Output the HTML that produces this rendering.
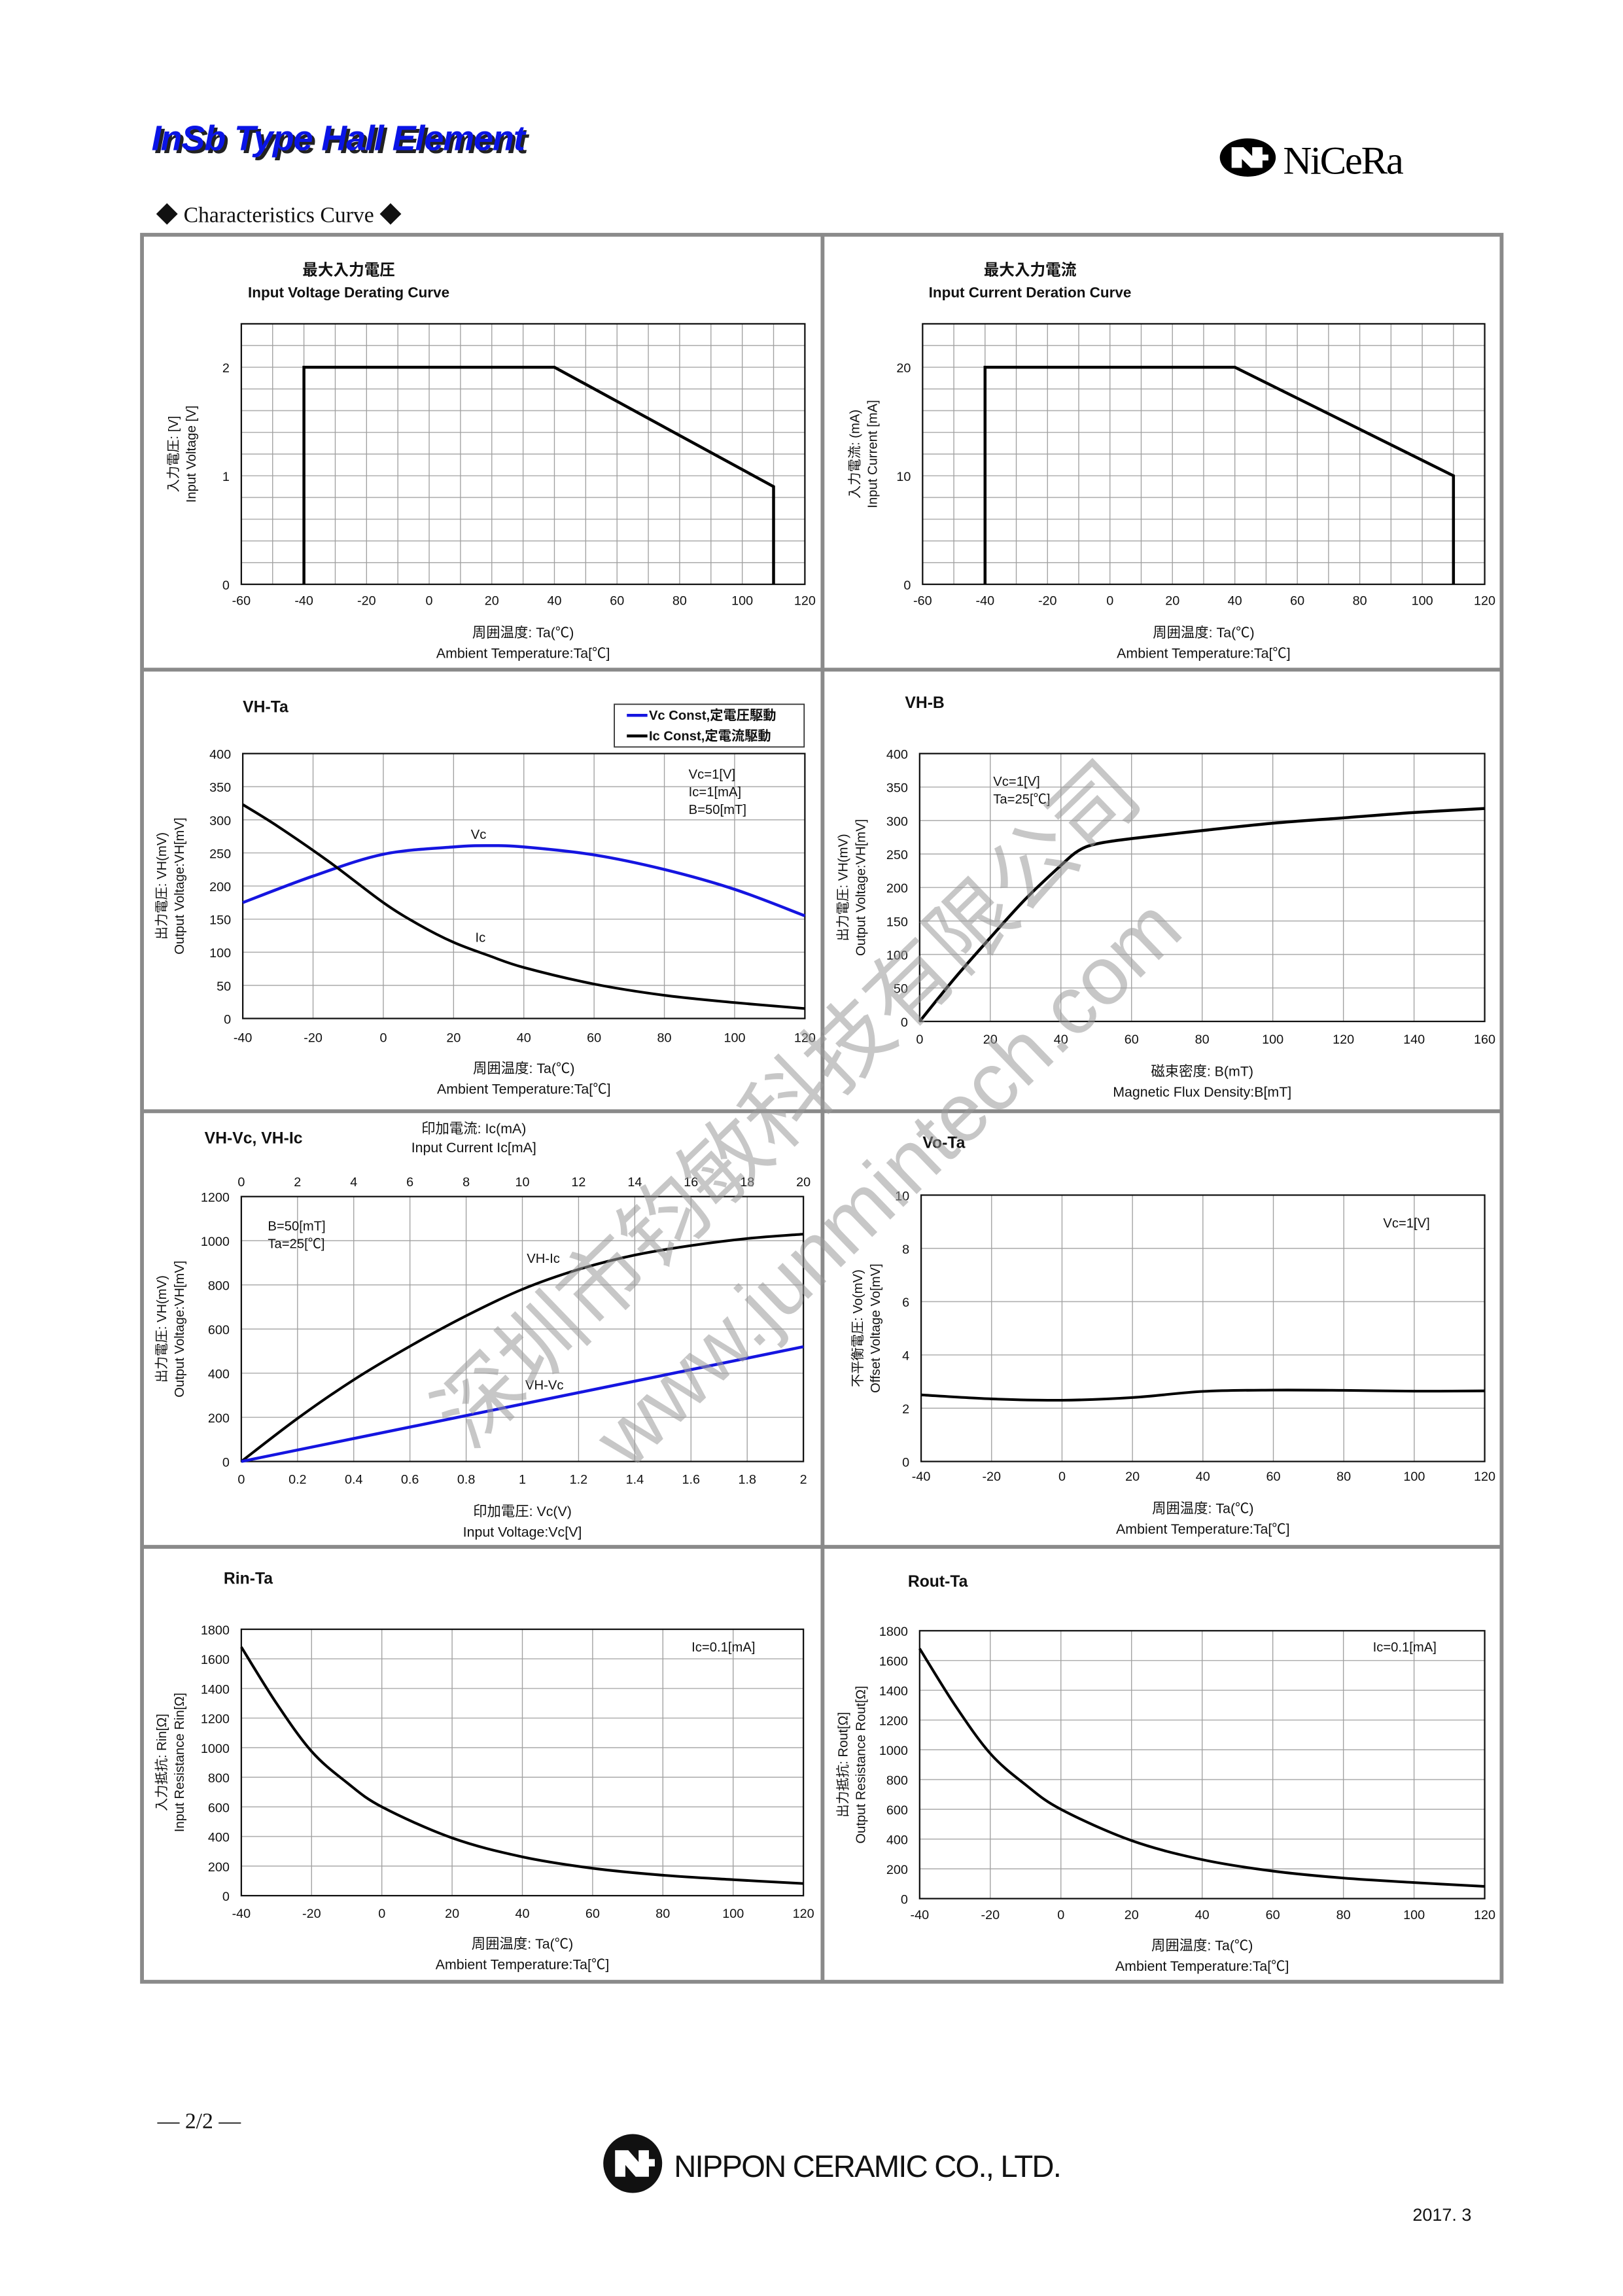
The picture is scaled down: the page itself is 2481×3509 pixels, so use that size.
<!DOCTYPE html>
<html><head><meta charset="utf-8">
<style>
html,body{margin:0;padding:0;background:#fff;}
svg{display:block;}
text{font-family:"Liberation Sans","Noto Sans CJK JP",sans-serif;fill:#111;}
</style></head>
<body>
<svg id="s" xmlns="http://www.w3.org/2000/svg" width="2481" height="3509" viewBox="0 0 1103 1560">
<rect x="0" y="0" width="1103" height="1560" fill="#fff"/>
<text x="105" y="104" font-size="24" font-weight="bold" font-style="italic" style="fill:#222" letter-spacing="-0.5">InSb  Type Hall Element</text>
<text x="103" y="102" font-size="24" font-weight="bold" font-style="italic" style="fill:#0a14e6" letter-spacing="-0.5">InSb  Type Hall Element</text>
<ellipse cx="848" cy="107" rx="19" ry="13" fill="#000"/>
<path d="M837 100 h8 l6 6 v-6 h7 v5 h4 v4 h-4 v5 h-8 l-6 -6 v6 h-7 z" fill="#fff"/>
<text x="872" y="118" font-size="27" font-family="Liberation Serif" style="fill:#000;font-family:'Liberation Serif',serif" letter-spacing="-1">NiCeRa</text>
<text x="106" y="151" font-size="15" style="font-family:'Liberation Serif','Noto Serif CJK SC',serif">◆  Characteristics Curve  ◆</text>
<g fill="none" stroke="#8a8a8a" stroke-width="2.6">
<rect x="96.5" y="159.5" width="924" height="1187"/>
<line x1="559" y1="159" x2="559" y2="1347"/>
<line x1="96" y1="455" x2="1021" y2="455"/>
<line x1="96" y1="755" x2="1021" y2="755"/>
<line x1="96" y1="1051" x2="1021" y2="1051"/>
</g>
<g id="charts"></g>
<g opacity="0.55" style="pointer-events:none">
<text x="535" y="770" font-size="58" text-anchor="middle" transform="rotate(-44 535 750)" style="fill:#9a9a9a;font-family:'Noto Sans CJK SC',sans-serif">深圳市钧敏科技有限公司</text>
<text x="605" y="822" font-size="56" text-anchor="middle" transform="rotate(-44 605 805)" style="fill:#9a9a9a">www.junmintech.com</text>
</g>
<text x="107" y="1446" font-size="15" style="font-family:'Liberation Serif',serif">—  2/2  —</text>
<circle cx="430" cy="1470" r="20" fill="#111"/>
<path d="M418 1461 h9 l7 8 v-8 h7 v6 h4 v5 h-4 v7 h-9 l-7 -8 v8 h-7 z" fill="#fff"/>
<text x="458" y="1479" font-size="21" letter-spacing="-0.8" style="fill:#111" font-family="Liberation Sans Narrow">NIPPON CERAMIC CO., LTD.</text>
<text x="960" y="1509" font-size="12">2017. 3</text>
</svg>
<script>
var NS="http://www.w3.org/2000/svg",G=document.getElementById("charts");
function el(t,a,txt,p){var e=document.createElementNS(NS,t);for(var k in a)e.setAttribute(k,a[k]);if(txt!==undefined)e.textContent=txt;(p||G).appendChild(e);return e;}
function tx(x,y,s,size,anchor,extra){var a={x:x,y:y,"font-size":size||9,"text-anchor":anchor||"start"};if(extra)for(var k in extra)a[k]=extra[k];return el("text",a,s);}
function cr(pts){var d="M"+pts[0][0].toFixed(2)+" "+pts[0][1].toFixed(2);for(var i=0;i<pts.length-1;i++){var p0=pts[i-1]||pts[i],p1=pts[i],p2=pts[i+1],p3=pts[i+2]||p2;var c1=[p1[0]+(p2[0]-p0[0])/6,p1[1]+(p2[1]-p0[1])/6],c2=[p2[0]-(p3[0]-p1[0])/6,p2[1]-(p3[1]-p1[1])/6];d+=" C"+c1[0].toFixed(2)+" "+c1[1].toFixed(2)+" "+c2[0].toFixed(2)+" "+c2[1].toFixed(2)+" "+p2[0].toFixed(2)+" "+p2[1].toFixed(2);}return d;}
function chart(c){
 var X=function(v){return c.x0+(v-c.xmin)/(c.xmax-c.xmin)*(c.x1-c.x0);},Y=function(v){return c.y1-(v-c.ymin)/(c.ymax-c.ymin)*(c.y1-c.y0);};
 var v,i;
 for(v=c.ymin+c.ygrid;v<c.ymax-1e-9;v+=c.ygrid){el("line",{x1:c.x0,x2:c.x1,y1:Y(v),y2:Y(v),stroke:"#b0b0b0","stroke-width":0.7});}
 for(v=c.xmin+c.xgrid;v<c.xmax-1e-9;v+=c.xgrid){el("line",{y1:c.y0,y2:c.y1,x1:X(v),x2:X(v),stroke:"#a0a0a0","stroke-width":0.6});}
 el("rect",{x:c.x0,y:c.y0,width:c.x1-c.x0,height:c.y1-c.y0,fill:"none",stroke:"#111","stroke-width":1});
 for(i=0;i<c.xt.length;i++){tx(X(c.xt[i]),c.xty,c.xtl?c.xtl[i]:String(c.xt[i]),8.8,"middle");}
 for(i=0;i<c.yt.length;i++){tx(c.x0-8,Y(c.yt[i])+3.5,String(c.yt[i]),8.8,"end");}
 c.series.forEach(function(s){var pts=s.p.map(function(q){return[X(q[0]),Y(q[1])];});
  el("path",{d:s.lin?("M"+pts.map(function(q){return q[0]+" "+q[1];}).join(" L")):cr(pts),fill:"none",stroke:s.col||"#000","stroke-width":s.w||1.8,"stroke-linejoin":"miter"});});
 var my=(c.y0+c.y1)/2;
 tx(c.ylx,my,c.yl1,9,"middle",{transform:"rotate(-90 "+c.ylx+" "+my+")"});
 tx(c.ylx+12,my,c.yl2,9,"middle",{transform:"rotate(-90 "+(c.ylx+12)+" "+my+")"});
 var mx=(c.x0+c.x1)/2;
 tx(mx,c.xly,c.xl1,9.5,"middle");tx(mx,c.xly+14,c.xl2,9.5,"middle");
}
var T=[-40,-20,0,20,40,60,80,100,120],T6=[-60,-40,-20,0,20,40,60,80,100,120];
var A1="周囲温度: Ta(℃)",A2="Ambient Temperature:Ta[℃]";
chart({x0:164,x1:547,y0:220,y1:397,xmin:-60,xmax:120,ymin:0,ymax:2.4,xgrid:10,ygrid:0.2,xt:T6,xty:411,yt:[0,1,2],series:[{p:[[-40,0],[-40,2],[40,2],[110,0.9],[110,0]],lin:1,w:2}],ylx:121,yl1:"入力電圧: [V]",yl2:"Input Voltage [V]",xly:433,xl1:A1,xl2:A2});
tx(237,187,"最大入力電圧",10.5,"middle",{"font-weight":"bold"});tx(237,202,"Input Voltage Derating Curve",10,"middle",{"font-weight":"bold"});
chart({x0:627,x1:1009,y0:220,y1:397,xmin:-60,xmax:120,ymin:0,ymax:24,xgrid:10,ygrid:2,xt:T6,xty:411,yt:[0,10,20],series:[{p:[[-40,0],[-40,20],[40,20],[110,10],[110,0]],lin:1,w:2}],ylx:584,yl1:"入力電流: (mA)",yl2:"Input Current [mA]",xly:433,xl1:A1,xl2:A2});
tx(700,187,"最大入力電流",10.5,"middle",{"font-weight":"bold"});tx(700,202,"Input Current Deration Curve",10,"middle",{"font-weight":"bold"});
chart({x0:165,x1:547,y0:512,y1:692,xmin:-40,xmax:120,ymin:0,ymax:400,xgrid:20,ygrid:50,xt:T,xty:708,yt:[0,50,100,150,200,250,300,350,400],
 series:[{p:[[-40,175],[-20,215],[0,248],[20,259],[30,261],[40,259],[60,247],[80,225],[100,195],[120,155]],col:"#1515e0",w:2},
 {p:[[-40,323],[-30,290],[-15,235],[0,175],[10,142],[20,115],[30,95],[40,77],[60,52],[80,35],[100,24],[120,15]],w:1.8}],
 ylx:113,yl1:"出力電圧: VH(mV)",yl2:"Output Voltage:VH[mV]",xly:729,xl1:A1,xl2:A2});
tx(165,484,"VH-Ta",11,"start",{"font-weight":"bold"});
el("rect",{x:417.5,y:478.5,width:129,height:29,fill:"#fff",stroke:"#333","stroke-width":0.8});
el("line",{x1:426,x2:440,y1:486,y2:486,stroke:"#1515e0","stroke-width":2});tx(441,489,"Vc Const,定電圧駆動",9,"start",{"font-weight":"bold"});
el("line",{x1:426,x2:440,y1:500,y2:500,stroke:"#000","stroke-width":2});tx(441,503,"Ic Const,定電流駆動",9,"start",{"font-weight":"bold"});
tx(468,529,"Vc=1[V]",9);tx(468,541,"Ic=1[mA]",9);tx(468,553,"B=50[mT]",9);
tx(320,570,"Vc",9);tx(323,640,"Ic",9);
chart({x0:625,x1:1009,y0:512,y1:694,xmin:0,xmax:160,ymin:0,ymax:400,xgrid:20,ygrid:50,xt:[0,20,40,60,80,100,120,140,160],xty:709,yt:[0,50,100,150,200,250,300,350,400],
 series:[{p:[[0,0],[10,65],[20,125],[30,183],[40,233],[45,255],[50,265],[60,273],[80,285],[100,296],[120,304],[140,312],[160,318]],w:2}],
 ylx:576,yl1:"出力電圧: VH(mV)",yl2:"Output Voltage:VH[mV]",xly:731,xl1:"磁束密度: B(mT)",xl2:"Magnetic Flux Density:B[mT]"});
tx(615,481,"VH-B",11,"start",{"font-weight":"bold"});tx(675,534,"Vc=1[V]",9);tx(675,546,"Ta=25[℃]",9);
chart({x0:164,x1:546,y0:813,y1:993,xmin:0,xmax:2,ymin:0,ymax:1200,xgrid:0.2,ygrid:200,xt:[0,0.2,0.4,0.6,0.8,1,1.2,1.4,1.6,1.8,2],xtl:["0","0.2","0.4","0.6","0.8","1","1.2","1.4","1.6","1.8","2"],xty:1008,yt:[0,200,400,600,800,1000,1200],
 series:[{p:[[0,0],[0.2,195],[0.4,370],[0.6,522],[0.8,660],[1,780],[1.2,870],[1.4,935],[1.6,978],[1.8,1010],[2,1030]],w:1.8},{p:[[0,0],[2,520]],lin:1,col:"#1515e0",w:2}],
 ylx:113,yl1:"出力電圧: VH(mV)",yl2:"Output Voltage:VH[mV]",xly:1030,xl1:"印加電圧: Vc(V)",xl2:"Input Voltage:Vc[V]"});
[0,2,4,6,8,10,12,14,16,18,20].forEach(function(v,i){tx(164+i*38.2,806,String(v),8.8,"middle");});
tx(139,777,"VH-Vc, VH-Ic",11,"start",{"font-weight":"bold"});
tx(322,770,"印加電流: Ic(mA)",9.5,"middle");tx(322,783,"Input Current Ic[mA]",9.5,"middle");
tx(182,836,"B=50[mT]",9);tx(182,848,"Ta=25[℃]",9);tx(358,858,"VH-Ic",9);tx(357,944,"VH-Vc",9);
chart({x0:626,x1:1009,y0:812,y1:993,xmin:-40,xmax:120,ymin:0,ymax:10,xgrid:20,ygrid:2,xt:T,xty:1006,yt:[0,2,4,6,8,10],
 series:[{p:[[-40,2.5],[-20,2.35],[0,2.3],[20,2.4],[40,2.63],[60,2.68],[80,2.67],[100,2.64],[120,2.65]],w:1.8}],
 ylx:586,yl1:"不平衡電圧: Vo(mV)",yl2:"Offset Voltage Vo[mV]",xly:1028,xl1:"周囲温度: Ta(℃)",xl2:A2});
tx(627,780,"Vo-Ta",11,"start",{"font-weight":"bold"});tx(940,834,"Vc=1[V]",9);
var R=[[-40,1680],[-30,1300],[-20,975],[-10,765],[0,600],[20,390],[40,262],[60,185],[80,138],[100,108],[120,82]];
chart({x0:164,x1:546,y0:1107,y1:1288,xmin:-40,xmax:120,ymin:0,ymax:1800,xgrid:20,ygrid:200,xt:T,xty:1303,yt:[0,200,400,600,800,1000,1200,1400,1600,1800],
 series:[{p:R,w:1.8}],ylx:113,yl1:"入力抵抗: Rin[Ω]",yl2:"Input Resistance Rin[Ω]",xly:1324,xl1:A1,xl2:A2});
tx(152,1076,"Rin-Ta",11,"start",{"font-weight":"bold"});tx(470,1122,"Ic=0.1[mA]",9);
chart({x0:625,x1:1009,y0:1108,y1:1290,xmin:-40,xmax:120,ymin:0,ymax:1800,xgrid:20,ygrid:200,xt:T,xty:1304,yt:[0,200,400,600,800,1000,1200,1400,1600,1800],
 series:[{p:R,w:1.8}],ylx:576,yl1:"出力抵抗: Rout[Ω]",yl2:"Output Resistance Rout[Ω]",xly:1325,xl1:A1,xl2:A2});
tx(617,1078,"Rout-Ta",11,"start",{"font-weight":"bold"});tx(933,1122,"Ic=0.1[mA]",9);
</script>
</body></html>
